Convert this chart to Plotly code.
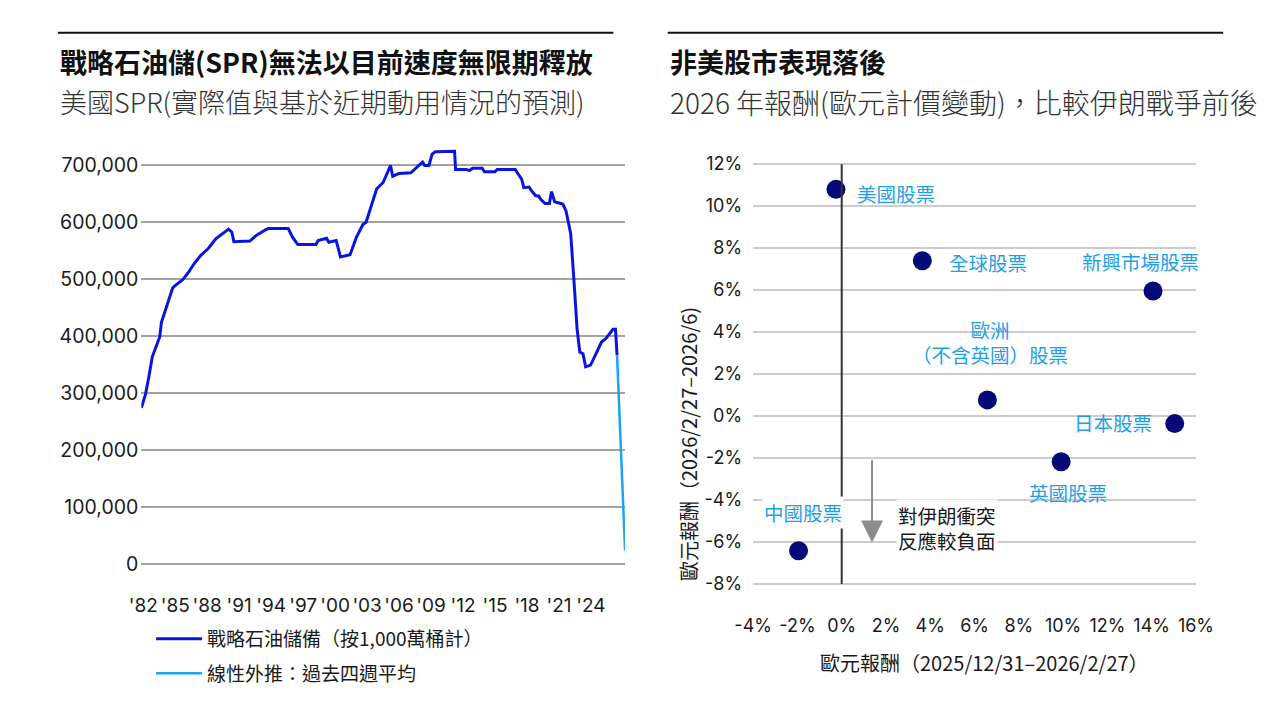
import plotly.graph_objects as go

# ---------------- Data: left chart (US SPR, thousand barrels) ----------------
spr_years = [1981.82, 1982.2, 1982.5, 1982.85, 1983.25, 1983.55, 1983.7, 1984.0, 1984.3,
             1984.76, 1985.07, 1985.7, 1986.2, 1986.8, 1987.4, 1988.1, 1988.8, 1989.5,
             1990.0, 1990.3, 1990.5, 1992.0, 1992.6, 1993.4, 1993.7, 1995.6, 1996.0,
             1996.5, 1998.2, 1998.4, 1999.2, 1999.4, 2000.1, 2000.5, 2001.4, 2002.0,
             2002.6, 2002.9, 2003.4, 2003.9, 2004.5, 2005.0, 2005.2, 2005.4, 2006.0,
             2007.1, 2007.6, 2008.2, 2008.4, 2008.8, 2009.1, 2009.4, 2011.2, 2011.3,
             2012.3, 2012.6, 2012.9, 2013.8, 2014.0, 2015.0, 2015.2, 2016.9, 2017.2,
             2017.5, 2017.7, 2018.2, 2018.4, 2018.8, 2019.1, 2019.3, 2019.7, 2020.1,
             2020.3, 2020.6, 2021.0, 2021.36, 2021.66, 2022.1, 2022.4, 2022.7, 2022.95,
             2023.25, 2023.5, 2023.96, 2024.4, 2025.0, 2025.37, 2025.67, 2026.07, 2026.3,
             2026.45]
spr_values = [274000, 297000, 326000, 364000, 384000, 399000, 424000, 442000, 459000,
              485000, 490000, 499000, 511000, 528000, 542000, 554000, 571000, 580000,
              588000, 583000, 566000, 567000, 577000, 586000, 589000, 589000, 574000,
              561000, 561000, 568000, 572000, 565000, 568000, 539000, 543000, 574000,
              596000, 600000, 629000, 659000, 670000, 693000, 700000, 681000, 686000,
              687000, 695000, 706000, 700000, 700000, 720000, 724000, 725000, 693000,
              693000, 691000, 695000, 695000, 689000, 689000, 693000, 693000, 684000,
              676000, 661000, 662000, 656000, 647000, 646000, 640000, 633000, 633000,
              654000, 636000, 634000, 632000, 620000, 580000, 499000, 412000, 372000,
              369000, 346000, 349000, 366000, 390000, 395000, 402000, 412000, 412000,
              366000]
proj_years = [2026.45, 2027.2]
proj_values = [366000, 23000]

x_tick_years = [1982, 1985, 1988, 1991, 1994, 1997, 2000, 2003, 2006, 2009, 2012,
                2015, 2018, 2021, 2024]
x_tick_labels = ["'82", "'85", "'88", "'91", "'94", "'97", "'00", "'03", "'06", "'09",
                 "'12", "'15", "'18", "'21", "'24"]
y_tick_values = [0, 100000, 200000, 300000, 400000, 500000, 600000, 700000]

# ---------------- Data: right chart (EUR returns, %) ----------------
equity_names = ["美國股票", "全球股票", "新興市場股票", "歐洲<br>（不含英國）股票",
                "日本股票", "英國股票", "中國股票"]
pre_war_returns = [-0.26, 3.64, 14.06, 6.58, 15.04, 9.91, -1.95]
post_war_returns = [10.8, 7.4, 5.96, 0.77, -0.36, -2.18, -6.42]
ret_x_ticks = [-4, -2, 0, 2, 4, 6, 8, 10, 12, 14, 16]
ret_x_labels = ["-4%", "-2%", "0%", "2%", "4%", "6%", "8%", "10%", "12%", "14%", "16%"]
ret_y_ticks = [-8, -6, -4, -2, 0, 2, 4, 6, 8, 10, 12]
ret_y_labels = ["-8%", "-6%", "-4%", "-2%", "0%", "2%", "4%", "6%", "8%", "10%", "12%"]

# ---------------- Styles ----------------
FONT = "Inter, 'Noto Sans CJK TC', sans-serif"
CJK = "'Noto Sans CJK TC', Inter, sans-serif"
DARK_BLUE = "#0a14e0"
LIGHT_BLUE = "#1aa4f0"
LABEL_BLUE = "#1f9ee8"
NAVY = "#050a78"
TEXT = "#1a1a1a"

W, H = 1280, 720
def px(x):
    return x / W
def py(y):
    return 1 - y / H

# label placement (pixel shifts relative to each point)
label_styles = [
    dict(xanchor="left", xshift=19, yshift=-4, bg=None),
    dict(xanchor="left", xshift=25, yshift=-2, bg=None),
    dict(xanchor="center", xshift=-13, yshift=29, bg=None),
    dict(xanchor="center", xshift=3, yshift=58, bg=None),
    dict(xanchor="right", xshift=-21, yshift=1, bg=None),
    dict(xanchor="center", xshift=7, yshift=-31, bg=None),
    dict(xanchor="center", xshift=4, yshift=38, bg="white"),
]

fig = go.Figure()

fig.add_trace(go.Scatter(
    x=spr_years, y=spr_values, mode="lines",
    line=dict(color=DARK_BLUE, width=3),
    name="戰略石油儲備（按1,000萬桶計）",
    xaxis="x", yaxis="y", legend="legend", showlegend=True, hoverinfo="skip"))
fig.add_trace(go.Scatter(
    x=proj_years, y=proj_values, mode="lines",
    line=dict(color=LIGHT_BLUE, width=2.5),
    name="線性外推：過去四週平均",
    xaxis="x", yaxis="y", legend="legend2", showlegend=True, hoverinfo="skip",
    cliponaxis=False))

fig.add_trace(go.Scatter(
    x=pre_war_returns, y=post_war_returns, mode="markers",
    marker=dict(color=NAVY, size=19, line=dict(width=0)),
    xaxis="x2", yaxis="y2", showlegend=False, cliponaxis=False, hoverinfo="skip"))

annotations = []
for name, xv, yv, st in zip(equity_names, pre_war_returns, post_war_returns, label_styles):
    ann = dict(
        x=xv, y=yv, xref="x2", yref="y2", text=name, showarrow=False,
        xanchor=st["xanchor"], yanchor="middle", xshift=st["xshift"], yshift=st["yshift"],
        align="center", font=dict(family=CJK, size=19.5, color=LABEL_BLUE))
    if st["bg"]:
        ann["bgcolor"] = st["bg"]
    annotations.append(ann)

# Arrow and note
annotations.append(dict(
    x=1.37, y=-6.02, ax=1.37, ay=-2.03, xref="x2", yref="y2", axref="x2", ayref="y2",
    text="", showarrow=True, arrowhead=2, arrowsize=2.2, arrowwidth=2, arrowcolor="#8c8c8c"))
annotations.append(dict(
    x=px(903), y=py(532), xref="paper", yref="paper", xanchor="left", yanchor="middle",
    text="對伊朗衝突<br>反應較負面", showarrow=False, align="left",
    font=dict(family=CJK, size=19.5, color=TEXT), bgcolor="white"))

# Axis titles of right chart
annotations.append(dict(
    x=px(994), y=py(668), xref="paper", yref="paper", xanchor="center", yanchor="middle",
    text="歐元報酬（2025/12/31–2026/2/27）", showarrow=False,
    font=dict(family=CJK, size=20, color=TEXT)))
annotations.append(dict(
    x=px(689), y=py(447), xref="paper", yref="paper", xanchor="center", yanchor="middle",
    text="歐元報酬（2026/2/27–2026/6)", showarrow=False, textangle=-90,
    font=dict(family=CJK, size=20, color=TEXT)))

# Titles
annotations += [
    dict(x=px(40), y=py(60), xref="paper", yref="paper", xanchor="left", yanchor="middle",
         text="<b>戰略石油儲(SPR)無法以目前速度無限期釋放</b>", showarrow=False,
         font=dict(family=CJK, size=27, color="#111111")),
    dict(x=px(40), y=py(101), xref="paper", yref="paper", xanchor="left", yanchor="middle",
         text="美國SPR(實際值與基於近期動用情況的預測)", showarrow=False,
         font=dict(family=CJK, size=27, color="#333333", weight=300)),
    dict(x=px(668), y=py(60), xref="paper", yref="paper", xanchor="left", yanchor="middle",
         text="<b>非美股市表現落後</b>", showarrow=False,
         font=dict(family=CJK, size=27, color="#111111")),
    dict(x=px(668), y=py(101), xref="paper", yref="paper", xanchor="left", yanchor="middle",
         text="2026 年報酬(歐元計價變動)，比較伊朗戰爭前後", showarrow=False,
         font=dict(family=CJK, size=28, color="#333333", weight=300)),
]

shapes = [
    dict(type="line", xref="paper", yref="paper", x0=px(40), x1=px(612), y0=py(31), y1=py(31),
         line=dict(color="#111111", width=2)),
    dict(type="line", xref="paper", yref="paper", x0=px(668), x1=px(1240), y0=py(31), y1=py(31),
         line=dict(color="#111111", width=2)),
    dict(type="line", xref="x2", yref="y2", x0=0, x1=0, y0=-8, y1=12,
         line=dict(color="#333333", width=2), layer="above"),
]

fig.update_layout(
    width=W, height=H, margin=dict(l=0, r=0, t=0, b=0),
    paper_bgcolor="white", plot_bgcolor="white",
    font=dict(family=FONT, color=TEXT),
    xaxis=dict(domain=[px(126), px(624)], range=[1981.82, 2027.19],
               tickvals=x_tick_years, ticktext=x_tick_labels, showgrid=False,
               zeroline=False, showline=False, ticks="", ticklabelstandoff=23,
               tickfont=dict(family=FONT, size=19, color=TEXT), anchor="y"),
    yaxis=dict(domain=[py(573.75), py(136.5)], range=[-10000, 750000],
               tickvals=y_tick_values, tickformat=",", showgrid=True,
               gridcolor="#a3a3a3", gridwidth=1.5, zeroline=False, showline=False,
               ticks="", ticklabelstandoff=2,
               tickfont=dict(family=FONT, size=19.5, color=TEXT), anchor="x"),
    xaxis2=dict(domain=[px(756), px(1212)], range=[-4, 16], tickvals=ret_x_ticks,
                ticktext=ret_x_labels, showgrid=False, zeroline=False, showline=False,
                ticks="", ticklabelstandoff=21,
                tickfont=dict(family=FONT, size=18, color=TEXT), anchor="y2"),
    yaxis2=dict(domain=[py(597), py(155.5)], range=[-8.4, 12.4], tickvals=ret_y_ticks,
                ticktext=ret_y_labels, showgrid=True, gridcolor="#cccccc", gridwidth=1.5,
                zeroline=False, showline=False, ticks="", ticklabelstandoff=10,
                tickfont=dict(family=FONT, size=18, color=TEXT), anchor="x2"),
    legend=dict(x=px(136), y=py(644), xanchor="left", yanchor="middle", itemwidth=46,
                font=dict(family=CJK, size=19, color=TEXT), bgcolor="rgba(0,0,0,0)"),
    legend2=dict(x=px(136), y=py(679), xanchor="left", yanchor="middle", itemwidth=46,
                 font=dict(family=CJK, size=19, color=TEXT), bgcolor="rgba(0,0,0,0)"),
    annotations=annotations, shapes=shapes,
)

fig.write_html("out.html")
